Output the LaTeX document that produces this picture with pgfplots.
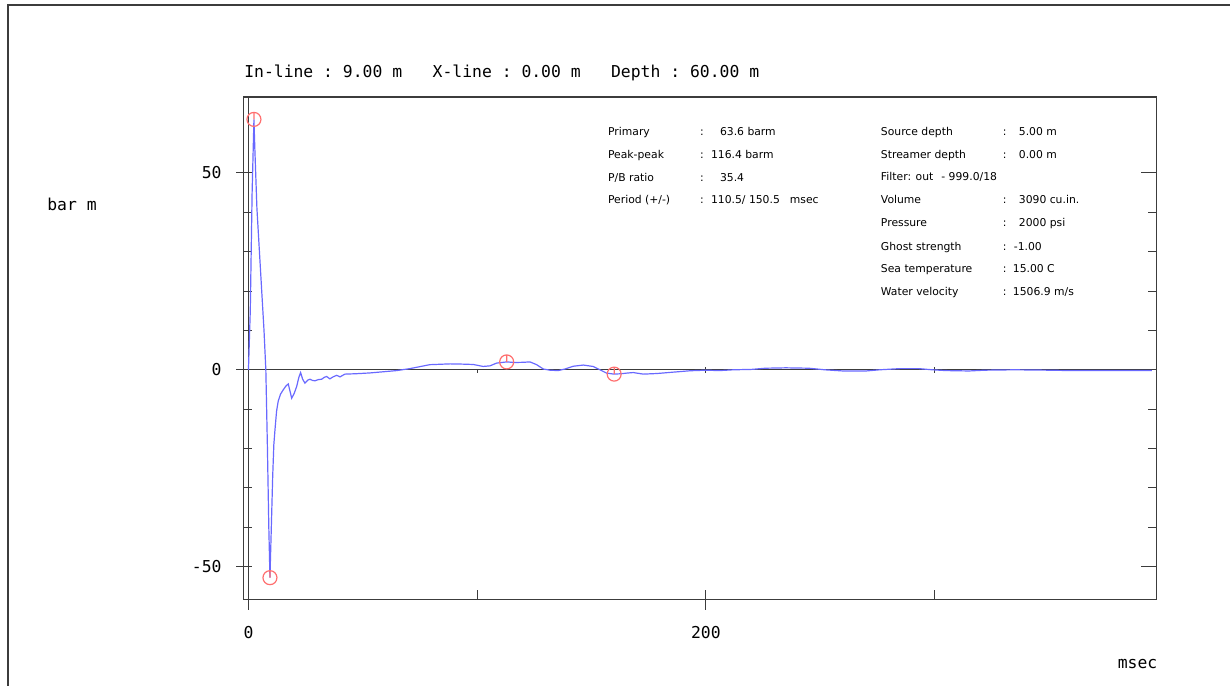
\documentclass[border=0pt]{standalone}
\usepackage{fontspec}
\setmainfont{DejaVu Sans}
\setmonofont{DejaVu Sans Mono}
\usepackage{pgfplots}
\pgfplotsset{compat=1.18}
\definecolor{sig}{RGB}{105,105,255}
\definecolor{mk}{RGB}{255,110,110}
\definecolor{ax}{RGB}{60,60,60}
\pgfdeclareplotmark{circtick}{%
  \pgfpathcircle{\pgfpointorigin}{\pgfplotmarksize}%
  \pgfpathmoveto{\pgfpoint{0pt}{\pgfplotmarksize}}%
  \pgfpathlineto{\pgfpointorigin}%
  \pgfusepathqstroke}
\newcommand{\info}{\fontsize{5.4}{6}\selectfont}
\newcommand{\mono}{\ttfamily\fontsize{8.2}{10}\selectfont}
\begin{document}
\begin{tikzpicture}
\path (0pt,0pt) rectangle (615.5pt,343pt);
\draw[ax,line width=0.6pt] (4pt,0pt) -- (4pt,340.5pt) -- (615.5pt,340.5pt);
\begin{axis}[
  at={(122pt,43pt)}, anchor=south west,
  width=456.5pt, height=251.5pt, scale only axis,
  xmin=-2, xmax=397, ymin=-58.4, ymax=69.3,
  axis line style={ax,line width=0.6pt},
  tick style={ax,line width=0.5pt},
  tick align=inside,
  major tick length=4pt, minor tick length=4.3pt,
  xtick={0,200}, xticklabels={0,200},
  xtick style={draw=none},
  xtick pos=left,
  ytick={-50,0,50}, yticklabels={-50,0,50},
  minor y tick num=4,
  yticklabel style={font=\mono, anchor=east, inner sep=0pt, xshift=-11pt},
  xticklabel style={font=\mono, anchor=north, inner sep=0pt, yshift=-13pt},
  clip=false,
]
\draw[ax,line width=0.6pt] (axis cs:-2,0) -- (axis cs:397,0);
\draw[ax,line width=0.6pt] (axis cs:0,69.3) -- (axis cs:0,-60.9);
\draw[ax,line width=0.5pt] (axis cs:-2,50) -- (axis cs:-5.5,50);
\draw[ax,line width=0.5pt] (axis cs:-2,0) -- (axis cs:-5.5,0);
\draw[ax,line width=0.5pt] (axis cs:-2,-50) -- (axis cs:-5.5,-50);
\draw[ax,line width=0.5pt] (axis cs:397,50) -- (axis cs:390.4,50);
\draw[ax,line width=0.5pt] (axis cs:397,0) -- (axis cs:390.4,0);
\draw[ax,line width=0.5pt] (axis cs:397,-50) -- (axis cs:390.4,-50);
\draw[ax,line width=0.5pt] (axis cs:100,-58.4) -- (axis cs:100,-55.86);
\draw[ax,line width=0.5pt] (axis cs:200,-60.94) -- (axis cs:200,-55.86);
\draw[ax,line width=0.5pt] (axis cs:300,-58.4) -- (axis cs:300,-55.86);
\draw[ax,line width=0.5pt] (axis cs:100,0) -- (axis cs:100,-0.8);
\draw[ax,line width=0.5pt] (axis cs:200,-0.8) -- (axis cs:200,0.8);
\draw[ax,line width=0.5pt] (axis cs:300,-0.8) -- (axis cs:300,0.8);
\addplot[sig, line width=0.6pt, mark=none] coordinates {
(0,0) (0.8,15) (1.6,45) (2.4,63.6) (2.8,56) (3.7,41) (4.8,30) (5.8,20) (6.8,10)
(7.6,0) (8.3,-20) (8.9,-40) (9.4,-52.8) (10.0,-40) (10.6,-27) (11.1,-19) (11.6,-15.2)
(12.3,-10.5) (13.0,-8.0) (14.0,-6.2) (15.2,-5.1) (16.4,-4.1) (17.4,-3.6) (18.2,-5.5)
(18.9,-7.2) (20.0,-6.0) (21.1,-4.2) (22.0,-2.0) (22.8,-0.7) (23.7,-2.4) (24.7,-3.4)
(26.0,-2.6) (26.9,-2.4) (28.0,-2.7) (29.1,-2.8) (30.5,-2.5) (32.0,-2.4) (33.2,-1.9)
(34.2,-1.7) (35.6,-2.3) (37.0,-1.8) (38.6,-1.4) (40.0,-1.8) (42.2,-1.1) (47.0,-1.0)
(53.1,-0.8) (59,-0.5) (64.8,-0.2) (70.6,0.3) (75,0.8) (79.3,1.3) (83.7,1.4) (88.1,1.5)
(93,1.45) (98.3,1.35) (102.6,0.85) (105.6,1.0) (108.5,1.7) (112.9,2.0) (116.5,1.85)
(120,1.9) (123.1,2.0) (126,1.3) (128.9,0.2) (131.8,-0.1) (135.4,-0.2) (138.4,0.2)
(142,0.9) (146.4,1.2) (150.7,0.85) (153.7,0) (156.6,-0.85) (159.9,-1.1) (163,-1.0)
(165.3,-0.85) (168.2,-0.7) (172.6,-1.1) (178.5,-0.95) (185.7,-0.6) (193,-0.25)
(200,-0.1) (206,-0.2) (212,0) (220,0.1) (226,0.4) (235,0.5) (245,0.4) (252,0)
(260,-0.3) (270,-0.3) (276,0) (285,0.3) (293,0.3) (299,0) (305,-0.2) (315,-0.3)
(322,-0.1) (335,0) (350,-0.1) (360,-0.2) (380,-0.2) (395,-0.2)
};
\addplot[mk, line width=0.6pt, only marks, mark=circtick, mark size=3.5pt] coordinates {
(2.4,63.6) (9.4,-52.8) (112.9,2.0) (159.9,-1.1)
};
\end{axis}
% title
\node[anchor=base west, inner sep=0pt, font=\mono] at (122pt,304pt) {In-line : 9.00 m};
\node[anchor=base west, inner sep=0pt, font=\mono] at (216.25pt,304pt) {X-line : 0.00 m};
\node[anchor=base west, inner sep=0pt, font=\mono] at (305.5pt,304pt) {Depth : 60.00 m};
\node[anchor=mid west, inner sep=0pt, font=\mono] at (23.5pt,240.5pt) {bar m};
\node[anchor=mid west, inner sep=0pt, font=\mono] at (559pt,11.5pt) {msec};
% info left
\begin{scope}[every node/.style={anchor=mid west, inner sep=0pt, font=\info}]
\node at (304pt,278pt) {Primary};      \node at (350pt,278pt) {:}; \node at (360pt,278pt) {63.6 barm};
\node at (304pt,266.5pt) {Peak-peak};  \node at (350pt,266.5pt) {:}; \node at (355.5pt,266.5pt) {116.4 barm};
\node at (304pt,255pt) {P/B ratio};    \node at (350pt,255pt) {:}; \node at (360pt,255pt) {35.4};
\node at (304pt,244pt) {Period (+/-)}; \node at (350pt,244pt) {:}; \node at (355.5pt,244pt) {110.5/ 150.5\hspace{5pt}msec};
% info right
\node at (440.5pt,278pt) {Source depth};      \node at (501.5pt,278pt) {:}; \node at (509.5pt,278pt) {5.00 m};
\node at (440.5pt,266.5pt) {Streamer depth};  \node at (501.5pt,266.5pt) {:}; \node at (509.5pt,266.5pt) {0.00 m};
\node at (440.5pt,255.5pt) {Filter: out\hspace{4pt}- 999.0/18};
\node at (440.5pt,244pt) {Volume};            \node at (501.5pt,244pt) {:}; \node at (509.5pt,244pt) {3090 cu.in.};
\node at (440.5pt,232.5pt) {Pressure};        \node at (501.5pt,232.5pt) {:}; \node at (509.5pt,232.5pt) {2000 psi};
\node at (440.5pt,220.5pt) {Ghost strength};  \node at (501.5pt,220.5pt) {:}; \node at (507pt,220.5pt) {-1.00};
\node at (440.5pt,209.5pt) {Sea temperature}; \node at (501.5pt,209.5pt) {:}; \node at (506.5pt,209.5pt) {15.00 C};
\node at (440.5pt,198pt) {Water velocity};    \node at (501.5pt,198pt) {:}; \node at (506.5pt,198pt) {1506.9 m/s};
\end{scope}
\end{tikzpicture}
\end{document}
